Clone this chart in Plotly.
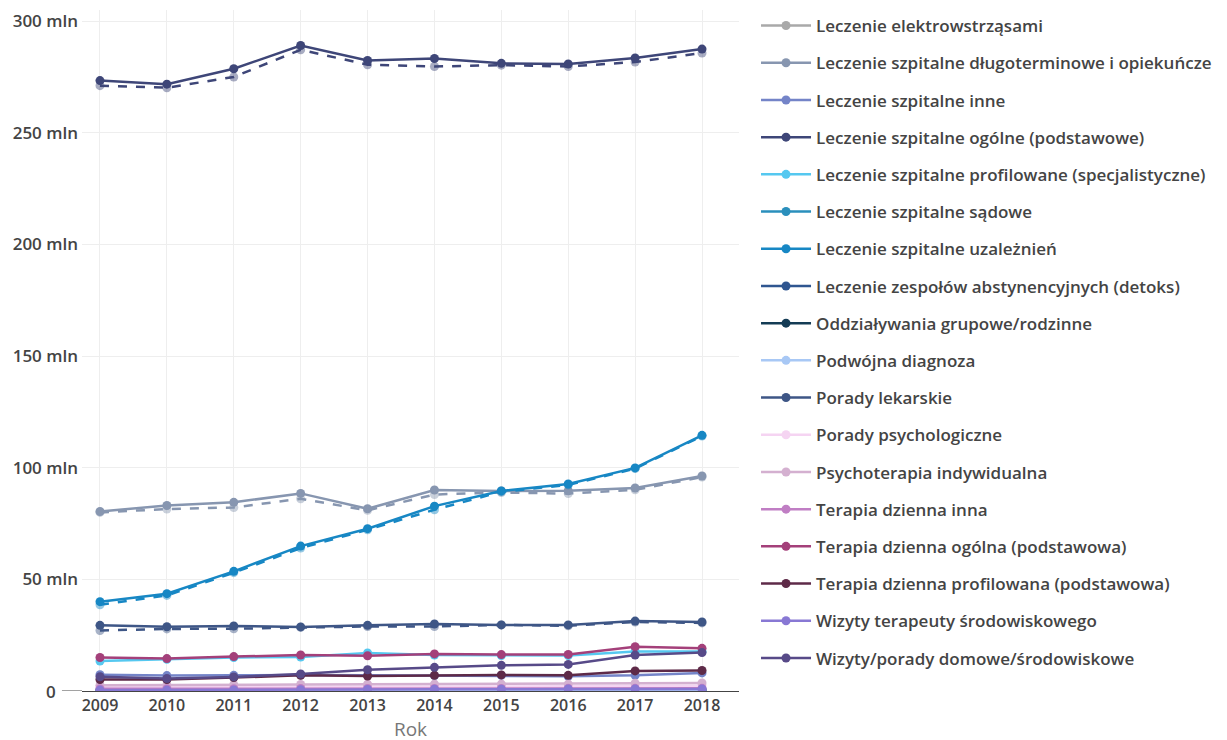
import plotly.graph_objects as go

years = [2009, 2010, 2011, 2012, 2013, 2014, 2015, 2016, 2017, 2018]

names = [
    "Leczenie elektrowstrząsami",
    "Leczenie szpitalne długoterminowe i opiekuńcze",
    "Leczenie szpitalne inne",
    "Leczenie szpitalne ogólne (podstawowe)",
    "Leczenie szpitalne profilowane (specjalistyczne)",
    "Leczenie szpitalne sądowe",
    "Leczenie szpitalne uzależnień",
    "Leczenie zespołów abstynencyjnych (detoks)",
    "Oddziaływania grupowe/rodzinne",
    "Podwójna diagnoza",
    "Porady lekarskie",
    "Porady psychologiczne",
    "Psychoterapia indywidualna",
    "Terapia dzienna inna",
    "Terapia dzienna ogólna (podstawowa)",
    "Terapia dzienna profilowana (podstawowa)",
    "Wizyty terapeuty środowiskowego",
    "Wizyty/porady domowe/środowiskowe",
]

colors = [
    "#a9a9a9", "#8796b0", "#7484c8", "#3e4678", "#55c8f0", "#2a8fbc",
    "#1787c4", "#2f5690", "#143c55", "#a8c8f5", "#3e5686", "#f5d4f2",
    "#d4b0d0", "#c07ec4", "#a4407a", "#5e2a48", "#8878d4", "#574a88",
]

# values in mln (solid series)
elektro = [0.1, 0.1, 0.1, 0.1, 0.1, 0.1, 0.1, 0.1, 0.1, 0.1]
dlugoterm = [80.4, 83.1, 84.5, 88.5, 81.6, 90.0, 89.6, 89.7, 90.9, 96.3]
inne = [7.3, 6.9, 7.0, 7.2, 7.0, 6.9, 7.0, 6.6, 7.0, 8.1]
ogolne = [273.4, 271.8, 278.7, 289.1, 282.4, 283.3, 281.1, 280.8, 283.5, 287.5]
profilowane = [13.4, 14.2, 15.0, 15.2, 17.0, 16.1, 15.9, 15.9, 17.7, 17.7]
sadowe = [0.5, 0.5, 0.5, 0.6, 0.6, 0.6, 0.6, 0.6, 0.7, 0.7]
uzaleznien = [40.0, 43.6, 53.6, 64.9, 72.7, 82.8, 89.6, 92.7, 99.9, 114.5]
detoks = [0.3, 0.3, 0.3, 0.3, 0.3, 0.4, 0.4, 0.4, 0.4, 0.4]
grupowe = [0.2, 0.2, 0.2, 0.2, 0.2, 0.2, 0.2, 0.2, 0.2, 0.2]
podwojna = [0.1, 0.1, 0.1, 0.1, 0.1, 0.1, 0.1, 0.1, 0.1, 0.1]
lekarskie = [29.4, 28.8, 29.1, 28.7, 29.4, 30.0, 29.6, 29.6, 31.3, 30.9]
psychologiczne = [1.8, 1.8, 1.9, 2.0, 2.0, 2.1, 2.1, 2.1, 2.3, 2.4]
psychoterapia = [2.6, 2.6, 2.8, 2.9, 3.0, 3.1, 3.1, 3.1, 3.5, 3.6]
dzienna_inna = [1.0, 1.0, 1.0, 1.1, 1.1, 1.1, 1.1, 1.2, 1.2, 1.2]
dzienna_ogolna = [15.0, 14.5, 15.4, 16.1, 15.8, 16.6, 16.3, 16.4, 19.8, 19.1]
dzienna_profil = [5.1, 5.1, 6.0, 7.0, 6.7, 7.0, 7.2, 7.0, 9.0, 9.2]
terapeuta = [0.4, 0.4, 0.5, 0.6, 0.7, 0.8, 0.8, 0.9, 0.9, 0.9]
domowe = [6.4, 5.6, 6.3, 7.6, 9.5, 10.6, 11.5, 11.9, 16.1, 17.2]

# dashed companion series (not in legend)
ogolne_d = [271.1, 270.2, 275.0, 287.2, 280.5, 279.7, 280.3, 279.7, 281.7, 285.7]
dlugoterm_d = [80.0, 81.5, 82.2, 86.1, 80.9, 88.0, 88.9, 88.4, 90.1, 95.8]
uzaleznien_d = [38.6, 42.8, 53.0, 64.0, 72.2, 81.2, 89.2, 92.3, 99.6, 114.2]
lekarskie_d = [27.1, 27.8, 27.9, 28.5, 28.9, 28.9, 29.6, 29.2, 30.9, 30.5]

series = [elektro, dlugoterm, inne, ogolne, profilowane, sadowe, uzaleznien,
          detoks, grupowe, podwojna, lekarskie, psychologiczne, psychoterapia,
          dzienna_inna, dzienna_ogolna, dzienna_profil, terapeuta, domowe]

dashed = {1: dlugoterm_d, 3: ogolne_d, 6: uzaleznien_d, 10: lekarskie_d}

ytickvals = [0, 50, 100, 150, 200, 250, 300]
yticktext = ["", "50 mln", "100 mln", "150 mln", "200 mln", "250 mln", "300 mln"]

fig = go.Figure()
for i, (nm, col, vals) in enumerate(zip(names, colors, series)):
    if i in dashed:
        fig.add_trace(go.Scatter(
            x=years, y=dashed[i], mode="lines+markers", name=nm,
            legendgroup=nm, showlegend=False,
            line=dict(color=col, width=2.5, dash="dash"),
            marker=dict(color=col, size=9, opacity=0.45),
        ))
    fig.add_trace(go.Scatter(
        x=years, y=vals, mode="lines+markers", name=nm, legendgroup=nm,
        line=dict(color=col, width=2.5),
        marker=dict(color=col, size=9),
    ))

# extension of the baseline to the left, as in the reference
fig.add_shape(type="line", xref="paper", yref="y", x0=-0.0305, x1=0, y0=0, y1=0,
              line=dict(color="#444", width=1))
fig.add_annotation(xref="paper", yref="y", x=-0.036, y=0, xanchor="right",
                   yanchor="middle", text="0", showarrow=False,
                   font=dict(size=17, color="#444", family="Open Sans", weight=600))

fig.update_layout(
    width=1227, height=740,
    margin=dict(l=74, r=496, t=2, b=57, autoexpand=False),
    paper_bgcolor="white", plot_bgcolor="white",
    font=dict(family="Open Sans", color="#444"),
    showlegend=True,
    legend=dict(
        x=1.0259, y=1, yref="container", xanchor="left", yanchor="top",
        font=dict(size=17, color="#444", family="Open Sans", weight=600),
        tracegroupgap=12.1, itemwidth=50, maxheight=740,
        bgcolor="rgba(0,0,0,0)",
    ),
    xaxis=dict(
        range=[2008.731, 2018.553], tickvals=years, ticktext=[str(y) for y in years],
        showgrid=True, gridcolor="#eeeeee", showline=True, linecolor="#444",
        linewidth=1, zeroline=False, automargin=False,
        tickfont=dict(size=16, color="#444", weight=600),
        title=dict(text="Rok", font=dict(size=19, color="#777"), standoff=6),
    ),
    yaxis=dict(
        range=[0, 305], tickvals=ytickvals, ticktext=yticktext,
        showgrid=True, gridcolor="#eeeeee", zeroline=False, automargin=False,
        ticklabelstandoff=3,
        tickfont=dict(size=17, color="#444", weight=600),
    ),
)

fig.write_html("out.html")
